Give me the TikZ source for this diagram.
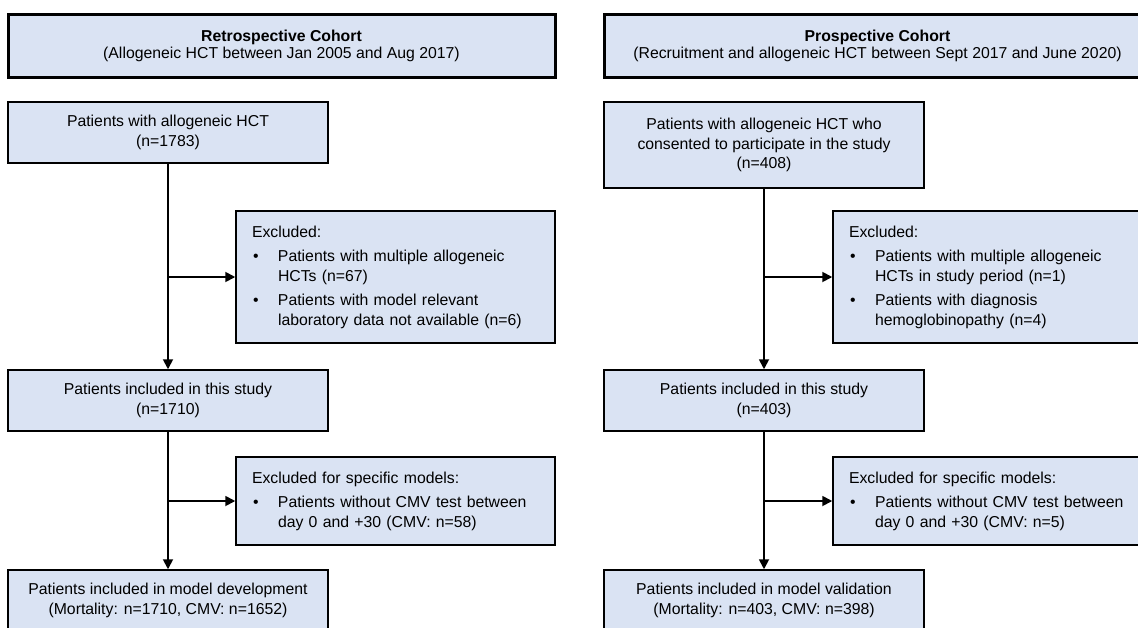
\documentclass[tikz,border=0pt]{standalone}
\usepackage{fontspec}
\setmainfont{Liberation Sans}
\usetikzlibrary{arrows.meta}
\definecolor{boxfill}{RGB}{218,227,243}
\newcommand{\bul}[2]{\makebox[26pt][l]{\hspace{1pt}\textbullet}#1\\\hspace*{26pt}#2}
\begin{document}
\begin{tikzpicture}[x=1pt,y=-1pt,
  box/.style={draw=black, line width=1.5pt, fill=boxfill, minimum width=320pt, minimum height=61pt, align=center, font=\fontsize{15.8}{19.5}\selectfont, inner sep=2pt},
  hdr/.style={draw=black, line width=3pt, fill=boxfill, minimum width=547pt, minimum height=63pt, align=center, font=\fontsize{15.8}{17}\selectfont, inner sep=0pt},
  exbox/.style={draw=black, line width=1.5pt, fill=boxfill, text width=287pt, inner xsep=16pt, inner ysep=0pt, align=left, font=\fontsize{15.8}{19.5}\selectfont},
  flow/.style={line width=1.8pt, -{Triangle[length=10pt,width=10pt]}}
]
\useasboundingbox (0,0) rectangle (1138,627);
\begin{scope}
\clip (0,0) rectangle (1138,627);
% headers
\node[hdr] (hl) at (281.5,45.5) {\textbf{Retrospective Cohort}\\(Allogeneic HCT between Jan 2005 and Aug 2017)};
\node[hdr] (hr) at (877.5,45.5) {\textbf{Prospective Cohort}\\(Recruitment and allogeneic HCT between Sept 2017 and June 2020)};
% left column
\node[box] (a1) at (168,132.5) {Patients with allogeneic HCT\\(n=1783)};
\node[exbox, minimum height=132pt] (a2) at (395.5,277) {Excluded:\\[5pt]\bul{Patients with multiple allogeneic}{HCTs (n=67)}\\[5pt]\bul{Patients with model relevant}{laboratory data not available (n=6)}};
\node[box] (a3) at (168,400.5) {Patients included in this study\\(n=1710)};
\node[exbox, minimum height=88pt] (a4) at (395.5,501) {Excluded for specific models:\\[5pt]\bul{Patients without CMV test between}{day 0 and +30 (CMV: n=58)}};
\node[box] (a5) at (168,600.5) {Patients included in model development\\(Mortality: n=1710, CMV: n=1652)};
% right column
\node[box, minimum height=86pt] (b1) at (764,145) {Patients with allogeneic HCT who\\consented to participate in the study\\(n=408)};
\node[exbox, minimum height=132pt] (b2) at (992.5,277) {Excluded:\\[5pt]\bul{Patients with multiple allogeneic}{HCTs in study period (n=1)}\\[5pt]\bul{Patients with diagnosis}{hemoglobinopathy (n=4)}};
\node[box] (b3) at (764,400.5) {Patients included in this study\\(n=403)};
\node[exbox, minimum height=88pt] (b4) at (992.5,501) {Excluded for specific models:\\[5pt]\bul{Patients without CMV test between}{day 0 and +30 (CMV: n=5)}};
\node[box] (b5) at (764,600.5) {Patients included in model validation\\(Mortality: n=403, CMV: n=398)};
% connectors
\draw[flow] (a1.south) -- (a3.north);
\draw[flow] (a1.south |- a2.west) -- (a2.west);
\draw[flow] (a3.south) -- (a5.north);
\draw[flow] (a3.south |- a4.west) -- (a4.west);
\draw[flow] (b1.south) -- (b3.north);
\draw[flow] (b1.south |- b2.west) -- (b2.west);
\draw[flow] (b3.south) -- (b5.north);
\draw[flow] (b3.south |- b4.west) -- (b4.west);
\end{scope}
\end{tikzpicture}
\end{document}
